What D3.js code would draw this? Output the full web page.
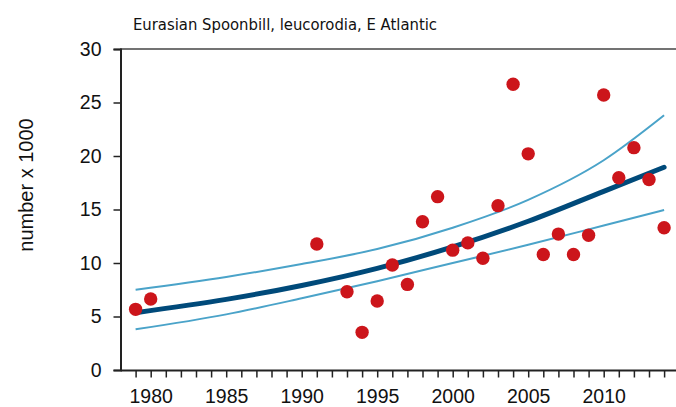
<!DOCTYPE html>
<html>
<head>
<meta charset="utf-8">
<script src="https://cdn.jsdelivr.net/npm/d3@7"></script>
<style>
html,body{margin:0;padding:0;background:#fff;}
svg{display:block;}
text{font-family:"Liberation Sans",Arial,sans-serif;fill:#111;}
</style>
</head>
<body>
<svg id="chart" width="676" height="407"></svg>
<script>
const title = "Eurasian Spoonbill, leucorodia, E Atlantic";
const yLabel = "number x 1000";

const years = [1979,1980,1991,1993,1994,1995,1996,1997,1998,1999,2000,2001,2002,2003,2004,2005,2006,2007,2008,2009,2010,2011,2012,2013,2014];
const counts = [5.67,6.64,11.78,7.32,3.52,6.45,9.81,8.0,13.86,16.2,11.2,11.88,10.44,15.36,26.7,20.2,10.8,12.7,10.8,12.6,25.7,17.97,20.78,17.8,13.3];

const fitYears = [1979,1985,1990,1995,2000,2005,2010,2014];
const trend = [5.36,6.6,7.9,9.5,11.5,13.9,16.7,18.95];
const upper = [7.5,8.7,9.9,11.3,13.3,15.9,19.6,23.8];
const lower = [3.8,5.2,6.7,8.3,10.0,11.7,13.5,14.95];

const yTicks = [0,5,10,15,20,25,30];
const xLabelYears = [1980,1985,1990,1995,2000,2005,2010];
const xTickYears = d3.range(1979, 2015);

const svg = d3.select("#chart");
const x = d3.scaleLinear().domain([1978, 2015]).range([120.5, 679.2]);
const y = d3.scaleLinear().domain([0, 30]).range([370, 49]);

// title
svg.append("text").attr("x", 285).attr("y", 30).attr("text-anchor", "middle")
  .style("font-family", "'DejaVu Sans Condensed','DejaVu Sans',sans-serif")
  .style("font-size", "16.5px").text(title);

// y label
svg.append("text").attr("transform", "translate(33,185) rotate(-90)")
  .attr("text-anchor", "middle").style("font-size", "20px").text(yLabel);

// top frame line
svg.append("line").attr("x1", 120).attr("x2", 690).attr("y1", y(30)).attr("y2", y(30))
  .attr("stroke", "#444").attr("stroke-width", 1.5);

// y axis
const yAxis = svg.append("g").attr("transform", "translate(120.5,0)")
  .call(d3.axisLeft(y).tickValues(yTicks).tickSize(7).tickPadding(12));
yAxis.selectAll("text").style("font-size", "19.5px").attr("fill", "#111");

// x axis
const xAxis = svg.append("g").attr("transform", "translate(0,370.5)")
  .call(d3.axisBottom(x).tickValues(xTickYears).tickSize(7).tickPadding(12)
    .tickFormat(d => xLabelYears.includes(d) ? String(d) : ""));
xAxis.selectAll("text").style("font-size", "19.5px").attr("fill", "#111");
xAxis.select(".domain").attr("d", "M120.5,0H690");

[yAxis, xAxis].forEach(g => {
  g.selectAll("line").attr("stroke", "#222").attr("stroke-width", 1.5);
  g.select(".domain").attr("stroke", "#222").attr("stroke-width", 2);
});

const line = arr => d3.line().curve(d3.curveMonotoneX)
  .x((d, i) => x(fitYears[i])).y(d => y(d))(arr);

svg.append("path").attr("d", line(upper)).attr("fill", "none")
  .attr("stroke", "#4aa3c9").attr("stroke-width", 2);
svg.append("path").attr("d", line(lower)).attr("fill", "none")
  .attr("stroke", "#4aa3c9").attr("stroke-width", 2);
svg.append("path").attr("d", line(trend)).attr("fill", "none")
  .attr("stroke", "#004a7a").attr("stroke-width", 5).attr("stroke-linecap", "round");

svg.append("g").selectAll("circle").data(years).join("circle")
  .attr("cx", d => x(d)).attr("cy", (d, i) => y(counts[i]))
  .attr("r", 6.7).attr("fill", "#cc151b");
</script>
</body>
</html>
